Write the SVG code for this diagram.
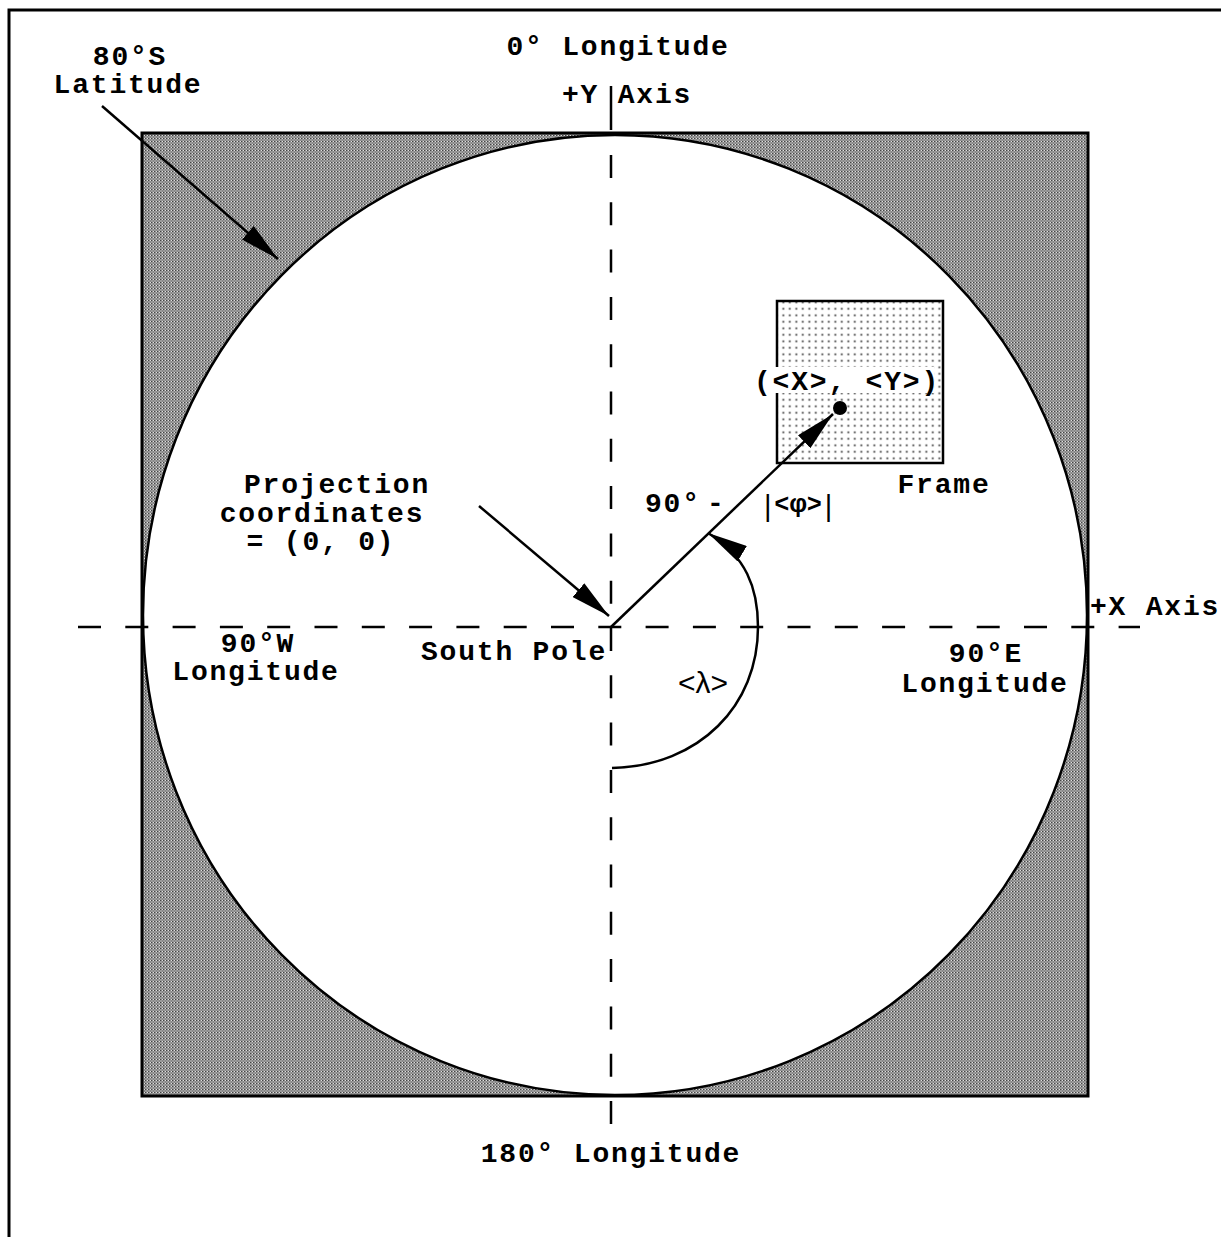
<svg xmlns="http://www.w3.org/2000/svg" width="1221" height="1237" viewBox="0 0 1221 1237">
<style>
.t{font-family:"Liberation Mono","Courier New",monospace;font-weight:bold;font-size:28px;letter-spacing:1.8px;fill:#000}
.s{font-family:"Liberation Sans","DejaVu Sans",sans-serif;fill:#000}
.ln{stroke:#000;stroke-width:2.5;fill:none}
.dash{stroke:#000;stroke-width:2.5;fill:none;stroke-dasharray:23 24.3}
</style>
<defs>
<pattern id="grey" width="3" height="3" patternUnits="userSpaceOnUse">
<rect width="3" height="3" fill="#888"/>
<rect x="0" y="0" width="1" height="1" fill="#e0e0e0"/>
<rect x="1.5" y="1.5" width="1" height="1" fill="#d0d0d0"/>
<rect x="1" y="0" width="1" height="1" fill="#444"/>
</pattern>
<pattern id="dots" width="6.5" height="6.5" patternUnits="userSpaceOnUse">
<rect width="6.5" height="6.5" fill="#fff"/>
<rect x="2.4" y="2.4" width="1.8" height="1.8" fill="#444"/>
</pattern>
<marker id="ah" viewBox="0 0 40 18" refX="40" refY="9" markerWidth="40" markerHeight="18" markerUnits="userSpaceOnUse" orient="auto">
<path d="M0,0 L40,9 L0,18 z" fill="#000"/>
</marker>
</defs>
<rect width="1221" height="1237" fill="#fff"/>
<g id="border">
<path d="M9,1237 L9,10 L1221,10" stroke="#000" stroke-width="3" fill="none"/>
</g>
<g id="projection-square">
<rect x="142" y="133" width="946" height="963" fill="url(#grey)" stroke="#000" stroke-width="3"/>
</g>
<g id="latitude-circle">
<ellipse cx="615" cy="615" rx="472" ry="480" fill="#fff" stroke="#000" stroke-width="2.5"/>
</g>
<g id="frame">
<rect x="777" y="301" width="166" height="162" fill="url(#dots)" stroke="#000" stroke-width="2.5"/>
<text class="t" x="944" y="493" text-anchor="middle">Frame</text>
</g>
<g id="axes">
<line class="dash" x1="78" y1="627" x2="1140" y2="627"/>
<line class="ln" x1="611" y1="86" x2="611" y2="130"/>
<line class="dash" x1="611" y1="155" x2="611" y2="1125"/>
</g>
<g id="connectors">
<line class="ln" x1="102" y1="106" x2="278" y2="259" marker-end="url(#ah)"/>
<line class="ln" x1="479" y1="506" x2="609" y2="616" marker-end="url(#ah)"/>
<line class="ln" x1="611" y1="627" x2="833" y2="414" marker-end="url(#ah)"/>
<path class="ln" d="M612,768 C700,766 758,705 758,627 C758,588 746,556 708,533" marker-end="url(#ah)"/>
</g>
<g id="point">
<rect x="746" y="367" width="188" height="26" fill="#fff"/>
<text class="t" x="847" y="390" text-anchor="middle">(&lt;X&gt;, &lt;Y&gt;)</text>
<circle cx="840" cy="408" r="7" fill="#000"/>
</g>
<g id="labels">
<text class="t" x="130" y="65" text-anchor="middle">80°S</text>
<text class="t" x="128" y="93" text-anchor="middle">Latitude</text>
<text class="t" x="618" y="55" text-anchor="middle">0° Longitude</text>
<text class="t" x="627" y="103" text-anchor="middle">+Y Axis</text>
<text class="t" x="337" y="493" text-anchor="middle">Projection</text>
<text class="t" x="322" y="522" text-anchor="middle">coordinates</text>
<text class="t" x="321" y="550" text-anchor="middle">= (0, 0)</text>
<text class="t" x="514" y="660" text-anchor="middle">South Pole</text>
<text class="t" x="258" y="652" text-anchor="middle">90°W</text>
<text class="t" x="256" y="680" text-anchor="middle">Longitude</text>
<text class="t" x="986" y="662" text-anchor="middle">90°E</text>
<text class="t" x="985" y="692" text-anchor="middle">Longitude</text>
<text class="t" x="1155" y="615" text-anchor="middle">+X Axis</text>
<text class="t" x="611" y="1162" text-anchor="middle">180° Longitude</text>
<text class="t" x="645" y="512">90°</text>
<text class="t" x="707" y="512">-</text>
<text class="s" x="764" y="516" font-size="29">|<tspan font-size="25" font-weight="bold" dx="3" dy="-4">&lt;φ&gt;</tspan><tspan dx="3" dy="4">|</tspan></text>
<text class="s" x="678" y="693" font-size="30">&lt;λ&gt;</text>
</g>
</svg>
